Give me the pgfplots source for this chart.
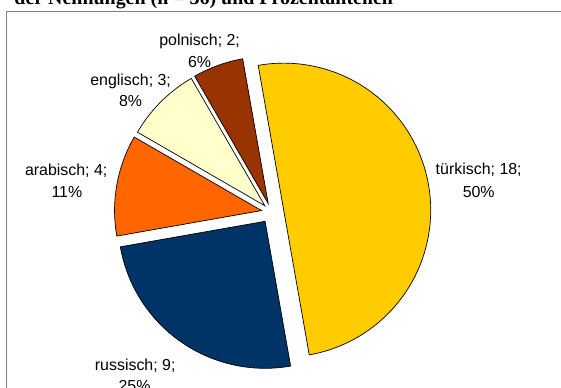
\documentclass[border=0pt]{standalone}
\usepackage{fontspec}
\setmainfont{Liberation Sans}
\newfontfamily\titlefont{Liberation Serif}
\usepackage{pgfplots}
\pgfplotsset{compat=1.18}

\definecolor{cT}{HTML}{FFCC00}
\definecolor{cR}{HTML}{003366}
\definecolor{cA}{HTML}{FF6600}
\definecolor{cE}{HTML}{FFFFCC}
\definecolor{cP}{HTML}{993300}
\definecolor{frame}{HTML}{808080}

% data: number of mentions (n = 36)
\def\vT{18}\def\vR{9}\def\vA{4}\def\vE{3}\def\vP{2}
\def\total{36}
% geometry (picture pixels)
\def\cx{271.4}\def\cy{212.3}\def\rad{147}
\pgfmathsetmacro\sT{100}
\pgfmathsetmacro\eT{\sT-\vT/\total*360}
\pgfmathsetmacro\sR{\eT}
\pgfmathsetmacro\eR{\sR-\vR/\total*360}
\pgfmathsetmacro\sA{\eR}
\pgfmathsetmacro\eA{\sA-\vA/\total*360}
\pgfmathsetmacro\sE{\eA}
\pgfmathsetmacro\eE{\sE-\vE/\total*360}
\pgfmathsetmacro\sP{\eE}
\pgfmathsetmacro\eP{\sP-\vP/\total*360}
% exploded centres
\pgfmathsetmacro\xT{\cx+12.5*cos((\sT+\eT)/2)}\pgfmathsetmacro\yT{\cy-12.5*sin((\sT+\eT)/2)}
\pgfmathsetmacro\xR{\cx+11*cos((\sR+\eR)/2)}\pgfmathsetmacro\yR{\cy-11*sin((\sR+\eR)/2)}
\pgfmathsetmacro\xA{\cx+10*cos((\sA+\eA)/2)}\pgfmathsetmacro\yA{\cy-10*sin((\sA+\eA)/2)}
\pgfmathsetmacro\xE{\cx+9.3*cos((\sE+\eE)/2)}\pgfmathsetmacro\yE{\cy-9.3*sin((\sE+\eE)/2)}
\pgfmathsetmacro\xP{\cx+9.3*cos((\sP+\eP)/2)}\pgfmathsetmacro\yP{\cy-9.3*sin((\sP+\eP)/2)}

\begin{document}
\begin{tikzpicture}
\useasboundingbox (0,0) rectangle (561bp,388bp);
\clip (0,0) rectangle (561bp,388bp);
\begin{axis}[
  at={(0,0)}, anchor=south west,
  width=561bp, height=388bp, scale only axis,
  xmin=0, xmax=561, ymin=0, ymax=388, y dir=reverse,
  enlargelimits=false, hide axis, clip=false,
]
\draw[frame, line width=1.3bp] (6.3,11.5) rectangle (620,430);
\node[anchor=base west, inner sep=0, font=\titlefont\bfseries\fontsize{20}{24}\selectfont] at (14.3,4.2) {der Nennungen (n = 36) und Prozentanteilen};

\addplot[fill=cT, draw=black, line width=0.7bp, domain=\eT:\sT, samples=120]
  ({\xT+\rad*cos(x)}, {\yT-\rad*sin(x)}) -- (\xT,\yT) -- cycle;
\addplot[fill=cR, draw=black, line width=0.7bp, domain=\eR:\sR, samples=70]
  ({\xR+\rad*cos(x)}, {\yR-\rad*sin(x)}) -- (\xR,\yR) -- cycle;
\addplot[fill=cA, draw=black, line width=0.7bp, domain=\eA:\sA, samples=40]
  ({\xA+\rad*cos(x)}, {\yA-\rad*sin(x)}) -- (\xA,\yA) -- cycle;
\addplot[fill=cE, draw=black, line width=0.7bp, domain=\eE:\sE, samples=30]
  ({\xE+\rad*cos(x)}, {\yE-\rad*sin(x)}) -- (\xE,\yE) -- cycle;
\addplot[fill=cP, draw=black, line width=0.7bp, domain=\eP:\sP, samples=25]
  ({\xP+\rad*cos(x)}, {\yP-\rad*sin(x)}) -- (\xP,\yP) -- cycle;

\begin{scope}[every node/.style={anchor=base, inner sep=0, font=\fontsize{16}{22}\selectfont}]
\node at (478.7,174.5) {türkisch; 18;};
\node at (478.7,197) {50\%};
\node at (135.2,370.5) {russisch; 9;};
\node at (134.5,391.5) {25\%};
\node at (66.2,175) {arabisch; 4;};
\node at (66.9,197) {11\%};
\node at (130.6,85) {englisch; 3;};
\node at (130.6,106) {8\%};
\node at (199.6,45.5) {polnisch; 2;};
\node at (199.6,67) {6\%};
\end{scope}
\end{axis}
\end{tikzpicture}
\end{document}
